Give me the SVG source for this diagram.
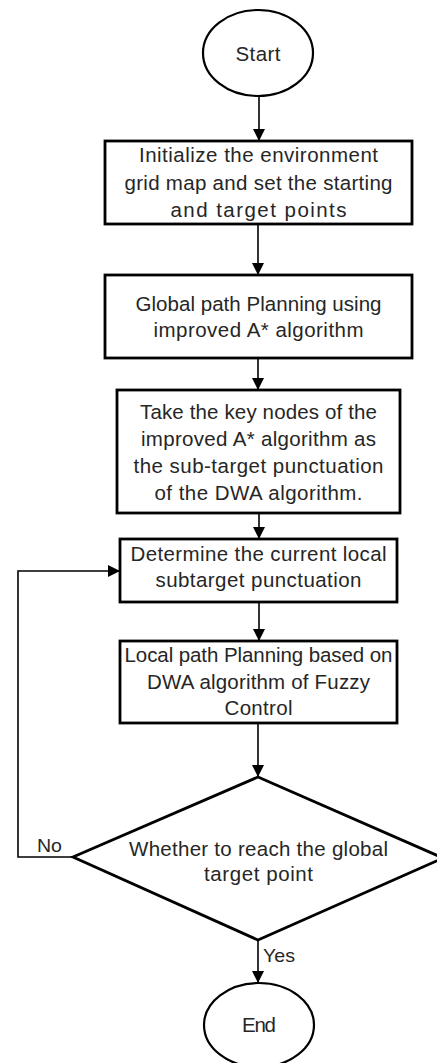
<svg xmlns="http://www.w3.org/2000/svg" width="437" height="1063" viewBox="0 0 437 1063">
<style>
.shape{fill:#fff;stroke:#000;stroke-width:2.8}
.oval{fill:#fff;stroke:#000;stroke-width:2.2}
.t{font-family:"Liberation Sans",Arial,sans-serif;font-size:20.5px;fill:#262626;text-anchor:middle}
.lbl{font-family:"Liberation Sans",Arial,sans-serif;font-size:19px;fill:#262626}
.c{fill:none;stroke:#000;stroke-width:1.6}
</style>
<defs>
<marker id="ah" markerUnits="userSpaceOnUse" markerWidth="12" markerHeight="12" refX="12" refY="6" orient="auto">
<path d="M0,0 L12,6 L0,12 z" fill="#000"/>
</marker>
</defs>
<rect width="437" height="1063" fill="#fff"/>
<g id="connectors">
<path class="c" d="M259,96 V141" marker-end="url(#ah)"/>
<path class="c" d="M258,224 V275" marker-end="url(#ah)"/>
<path class="c" d="M258,358 V390" marker-end="url(#ah)"/>
<path class="c" d="M259,513 V539" marker-end="url(#ah)"/>
<path class="c" d="M259,602 V641" marker-end="url(#ah)"/>
<path class="c" d="M258,723 V777" marker-end="url(#ah)"/>
<path class="c" d="M258,940 V983" marker-end="url(#ah)"/>
<path class="c" d="M73,857 H18 V571 H120" marker-end="url(#ah)"/>
<text class="lbl" x="37" y="852" textLength="25" lengthAdjust="spacingAndGlyphs">No</text>
<text class="lbl" x="263" y="962" textLength="32" lengthAdjust="spacingAndGlyphs">Yes</text>
</g>
<g id="start">
<ellipse class="oval" cx="258" cy="53" rx="55" ry="43"/>
<text class="t" x="258" y="61" textLength="45" lengthAdjust="spacing">Start</text>
</g>
<g id="init">
<rect class="shape" x="105" y="141" width="307" height="83"/>
<text class="t" x="258.5" y="162" textLength="239" lengthAdjust="spacing">Initialize the environment</text>
<text class="t" x="258.5" y="190" textLength="268" lengthAdjust="spacing">grid map and set the starting</text>
<text class="t" x="258.5" y="217" textLength="176" lengthAdjust="spacing">and target points</text>
</g>
<g id="global">
<rect class="shape" x="105" y="275" width="307" height="83"/>
<text class="t" x="258.5" y="311" textLength="246" lengthAdjust="spacing">Global path Planning using</text>
<text class="t" x="258.5" y="337" textLength="210" lengthAdjust="spacing">improved A* algorithm</text>
</g>
<g id="keynodes">
<rect class="shape" x="117" y="390" width="283" height="123"/>
<text class="t" x="258.5" y="419" textLength="237" lengthAdjust="spacing">Take the key nodes of the</text>
<text class="t" x="258.5" y="446" textLength="235" lengthAdjust="spacing">improved A* algorithm as</text>
<text class="t" x="258.5" y="473" textLength="250" lengthAdjust="spacing">the sub-target punctuation</text>
<text class="t" x="258.5" y="500" textLength="208" lengthAdjust="spacing">of the DWA algorithm.</text>
</g>
<g id="determine">
<rect class="shape" x="120" y="539" width="277" height="63"/>
<text class="t" x="258.5" y="561" textLength="256" lengthAdjust="spacing">Determine the current local</text>
<text class="t" x="258.5" y="587" textLength="206" lengthAdjust="spacing">subtarget punctuation</text>
</g>
<g id="local">
<rect class="shape" x="120" y="641" width="277" height="82"/>
<text class="t" x="258.5" y="662" textLength="268" lengthAdjust="spacing">Local path Planning based on</text>
<text class="t" x="258.5" y="689" textLength="223" lengthAdjust="spacing">DWA algorithm of Fuzzy</text>
<text class="t" x="258.5" y="715" textLength="68" lengthAdjust="spacing">Control</text>
</g>
<g id="decision">
<polygon class="shape" points="258,777 443,858 258,940 73,857"/>
<text class="t" x="258.5" y="856" textLength="259" lengthAdjust="spacing">Whether to reach the global</text>
<text class="t" x="258.5" y="881" textLength="109" lengthAdjust="spacing">target point</text>
</g>
<g id="end">
<ellipse class="oval" cx="259" cy="1025" rx="55" ry="42"/>
<text class="t" x="259" y="1032" textLength="34" lengthAdjust="spacing">End</text>
</g>
</svg>
